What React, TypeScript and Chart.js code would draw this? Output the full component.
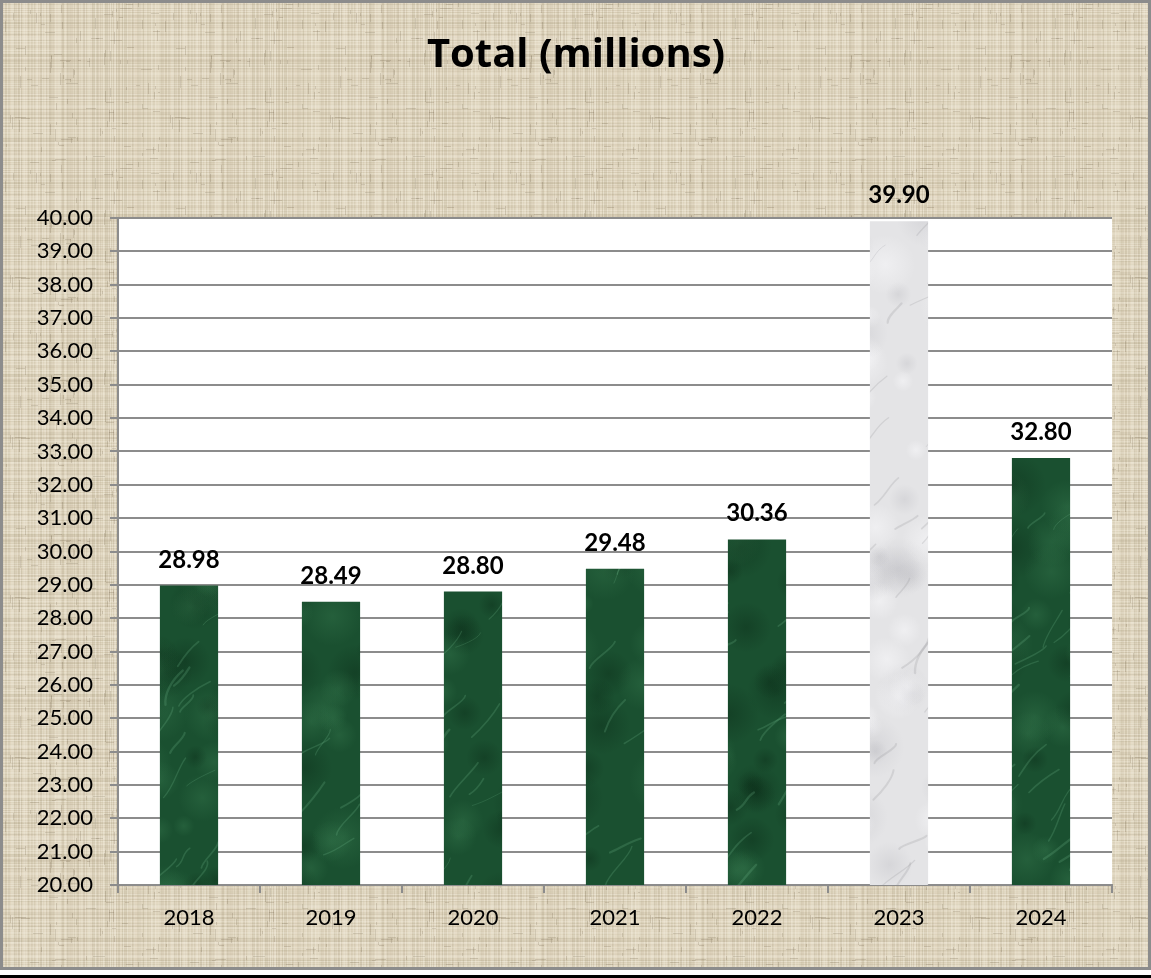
import React, { useEffect, useRef } from "react";
import { Chart, registerables } from "chart.js";

Chart.register(...registerables);

const years = ["2018", "2019", "2020", "2021", "2022", "2023", "2024"];
const totals = [28.98, 28.49, 28.8, 29.48, 30.36, 39.9, 32.8];
const valueLabels = ["28.98", "28.49", "28.80", "29.48", "30.36", "39.90", "32.80"];
const highlightYear = "2023";
const yMin = 20;
const yMax = 40;
const yStep = 1;
const titleText = "Total (millions)";

const W = 1151;
const H = 978;
const FONT = "Lato, 'Open Sans', sans-serif";
const TITLE_FONT = "'Open Sans', Lato, sans-serif";

function hash(n: number): number {
  const s = Math.sin(n * 12.9898 + 78.233) * 43758.5453;
  return s - Math.floor(s);
}

function makeLinen(ctx: CanvasRenderingContext2D): CanvasPattern | string {
  const c = document.createElement("canvas");
  c.width = 160;
  c.height = 160;
  const g = c.getContext("2d");
  if (!g) return "#e2d8c2";
  g.fillStyle = "#e1d7c0";
  g.fillRect(0, 0, 160, 160);
  for (let i = 0; i < 160; i++) {
    const a = hash(i) * 0.18;
    const dark = hash(i + 300) > 0.45;
    g.fillStyle = dark ? `rgba(140,125,95,${a})` : `rgba(250,246,236,${a * 1.5})`;
    g.fillRect(i, 0, 1, 160);
    const b = hash(i + 700) * 0.18;
    const dark2 = hash(i + 900) > 0.45;
    g.fillStyle = dark2 ? `rgba(140,125,95,${b})` : `rgba(250,246,236,${b * 1.5})`;
    g.fillRect(0, i, 160, 1);
  }
  for (let k = 0; k < 120; k++) {
    const x = Math.floor(hash(k + 1500) * 160);
    const y = Math.floor(hash(k + 1700) * 160);
    const len = 3 + Math.floor(hash(k + 1900) * 10);
    g.fillStyle = "rgba(110,95,70,0.2)";
    if (hash(k + 2100) > 0.5) g.fillRect(x, y, 1, len);
    else g.fillRect(x, y, len, 1);
  }
  return ctx.createPattern(c, "repeat") || "#e2d8c2";
}

type RGB = [number, number, number];

function makeMarble(
  ctx: CanvasRenderingContext2D,
  base: string,
  light: RGB,
  lightA: number,
  dark: RGB,
  darkA: number,
  vein: string,
  seed: number
): CanvasPattern | string {
  const c = document.createElement("canvas");
  c.width = W;
  c.height = H;
  const g = c.getContext("2d");
  if (!g) return base;
  g.fillStyle = base;
  g.fillRect(0, 0, W, H);
  const blob = (cx: number, cy: number, r: number, col: RGB, a: number) => {
    const rg = g.createRadialGradient(cx, cy, 0, cx, cy, r);
    rg.addColorStop(0, `rgba(${col[0]},${col[1]},${col[2]},${a})`);
    rg.addColorStop(0.5, `rgba(${col[0]},${col[1]},${col[2]},${a * 0.5})`);
    rg.addColorStop(1, `rgba(${col[0]},${col[1]},${col[2]},0)`);
    g.fillStyle = rg;
    g.fillRect(cx - r, cy - r, r * 2, r * 2);
  };
  for (let k = 0; k < 700; k++) {
    const cx = hash(seed + k * 3.1) * W;
    const cy = hash(seed + k * 5.7 + 1) * H;
    const r = 10 + hash(seed + k * 7.3 + 2) * 22;
    const isLight = hash(seed + k * 2.9) > 0.5;
    blob(cx, cy, r, isLight ? light : dark, isLight ? lightA : darkA);
  }
  g.strokeStyle = vein;
  g.lineCap = "round";
  for (let k = 0; k < 420; k++) {
    g.lineWidth = 0.8 + hash(seed + k * 11.1) * 1.6;
    const x0 = hash(seed + k * 13.3) * W;
    const y0 = hash(seed + k * 17.7) * H;
    const dx = 12 + hash(seed + k * 29.9) * 22;
    const dy = -12 - hash(seed + k * 31.1) * 28;
    g.beginPath();
    g.moveTo(x0, y0);
    g.bezierCurveTo(
      x0 + dx * 0.3 + (hash(seed + k * 19.3) - 0.5) * 14,
      y0 + dy * 0.3,
      x0 + dx * 0.7 + (hash(seed + k * 23.9) - 0.5) * 14,
      y0 + dy * 0.7,
      x0 + dx,
      y0 + dy
    );
    g.stroke();
  }
  return ctx.createPattern(c, "no-repeat") || base;
}

export default function App() {
  const ref = useRef<HTMLCanvasElement | null>(null);

  useEffect(() => {
    document.body.style.margin = "0";
    const canvas = ref.current;
    if (!canvas) return;
    const ctx = canvas.getContext("2d");
    if (!ctx) return;

    const linen = makeLinen(ctx);
    const green = makeMarble(ctx, "#1a5030", [75, 150, 100], 0.22, [6, 32, 16], 0.3, "rgba(120,190,145,0.22)", 11);
    const white = makeMarble(ctx, "#e4e4e6", [250, 250, 252], 0.5, [165, 165, 172], 0.22, "rgba(150,150,156,0.25)", 57);

    const colors = years.map((y) => (y === highlightYear ? white : green));

    const decor = {
      id: "decor",
      beforeDraw(chart: any) {
        const { ctx: c, width, chartArea } = chart;
        c.save();
        c.fillStyle = "#ffffff";
        c.fillRect(0, 0, width, H);
        c.fillStyle = linen;
        c.fillRect(0, 0, width, 970);
        c.fillStyle = "#ffffff";
        c.fillRect(chartArea.left, chartArea.top, chartArea.right - chartArea.left, chartArea.bottom - chartArea.top);
        c.strokeStyle = "#8c8c8c";
        c.lineWidth = 3;
        c.strokeRect(1.5, 1.5, width - 3, 967);
        c.fillStyle = "#000000";
        c.fillRect(0, 975, width, 3);
        c.fillStyle = "#000000";
        c.font = `bold 40px ${TITLE_FONT}`;
        c.textAlign = "center";
        c.textBaseline = "alphabetic";
        c.fillText(titleText, 576, 67);
        c.restore();
      },
      afterDatasetsDraw(chart: any) {
        const c = chart.ctx;
        const meta = chart.getDatasetMeta(0);
        c.save();
        c.fillStyle = "#000000";
        c.font = `bold 24px ${FONT}`;
        c.textAlign = "center";
        c.textBaseline = "alphabetic";
        meta.data.forEach((el: any, i: number) => {
          c.fillText(valueLabels[i], el.x, el.y - 18);
        });
        c.restore();
      },
    };

    const chart = new Chart(canvas, {
      type: "bar",
      data: {
        labels: years,
        datasets: [
          {
            label: titleText,
            data: totals,
            backgroundColor: colors as any,
            borderWidth: 0,
            categoryPercentage: 1,
            barPercentage: 0.41,
          },
        ],
      },
      options: {
        responsive: false,
        animation: false,
        devicePixelRatio: 1,
        layout: { padding: { top: 218, right: 39, left: 0, bottom: 0 } },
        plugins: {
          legend: { display: false },
          title: { display: false },
          tooltip: { enabled: false },
        },
        scales: {
          x: {
            afterFit(scale: any) {
              scale.height = H - 885;
            },
            grid: {
              offset: true,
              drawOnChartArea: false,
              drawTicks: true,
              tickLength: 8,
              color: "#8c8c8c",
              lineWidth: 2,
            },
            border: { display: true, color: "#8c8c8c", width: 2 },
            ticks: {
              color: "#000000",
              font: { family: FONT, size: 22 },
              padding: 12,
            },
          },
          y: {
            min: yMin,
            max: yMax,
            afterFit(scale: any) {
              scale.width = 118;
            },
            grid: {
              drawOnChartArea: true,
              drawTicks: true,
              tickLength: 8,
              color: "#8c8c8c",
              lineWidth: 2,
            },
            border: { display: true, color: "#8c8c8c", width: 2 },
            ticks: {
              stepSize: yStep,
              autoSkip: false,
              color: "#000000",
              font: { family: FONT, size: 22 },
              padding: 17,
              callback: (v: any) => Number(v).toFixed(2),
            },
          },
        },
      },
      plugins: [decor],
    });

    return () => chart.destroy();
  }, []);

  return <canvas ref={ref} width={W} height={H} style={{ display: "block" }} />;
}
